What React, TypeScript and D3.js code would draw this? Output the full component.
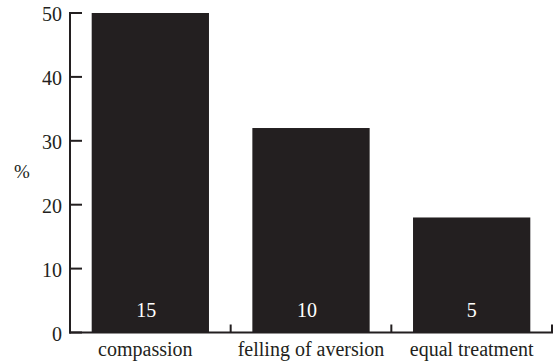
import React from "react";
import * as d3 from "d3";

const categories = ["compassion", "felling of aversion", "equal treatment"];
const values = [50, 32, 18];
const counts = ["15", "10", "5"];
const yTicks = [0, 10, 20, 30, 40, 50];

const W = 556;
const H = 361;
const INK = "#231f20";
const txt: React.CSSProperties = { fontFamily: "'Liberation Serif'" };

export default function App() {
  const left = 70;
  const right = 552;
  const top = 13;
  const bottom = 332.5;

  const y = d3.scaleLinear().domain([0, 50]).range([bottom, top]);
  const x = d3
    .scaleBand<string>()
    .domain(categories)
    .range([left, right])
    .paddingInner(0.27)
    .paddingOuter(0.135);
  const step = x.step();
  const bandEdges = categories.map((_, i) => left + step * (i + 1));

  return (
    <svg
      width={W}
      height={H}
      style={{ position: "absolute", left: 0, top: 0, background: "#fff" }}
    >
      {categories.map((c, i) => {
        const cx = (x(c) as number) + x.bandwidth() / 2;
        return (
          <g key={c}>
            <rect
              x={x(c)}
              y={y(values[i])}
              width={x.bandwidth()}
              height={y(0) - y(values[i])}
              fill={INK}
            />
            <text
              x={cx - (counts[i].length > 1 ? 4 : 0)}
              y={317}
              fill="#fff"
              fontSize={20}
              textAnchor="middle"
              style={txt}
            >
              {counts[i]}
            </text>
            <text
              x={cx - (i === 0 ? 5 : 0)}
              y={356}
              fill={INK}
              fontSize={20}
              textAnchor="middle"
              style={txt}
            >
              {c}
            </text>
          </g>
        );
      })}

      <line x1={left} x2={left} y1={y(50) - 1} y2={bottom + 1} stroke={INK} strokeWidth={2} />
      {yTicks.map((t) => (
        <g key={t}>
          <line x1={left} x2={left + 12} y1={y(t)} y2={y(t)} stroke={INK} strokeWidth={2} />
          <text
            x={62}
            y={y(t)}
            dy="0.4em"
            fontSize={20}
            textAnchor="end"
            fill={INK}
            style={txt}
          >
            {t}
          </text>
        </g>
      ))}
      <text
        x={22}
        y={y(25)}
        dy="0.3em"
        fontSize={19}
        textAnchor="middle"
        fill={INK}
        style={txt}
      >
        %
      </text>

      <line x1={left - 1} x2={right + 1} y1={bottom} y2={bottom} stroke={INK} strokeWidth={2} />
      {bandEdges.map((bx, i) => (
        <line key={i} x1={bx} x2={bx} y1={bottom} y2={bottom - 8} stroke={INK} strokeWidth={2} />
      ))}
    </svg>
  );
}
